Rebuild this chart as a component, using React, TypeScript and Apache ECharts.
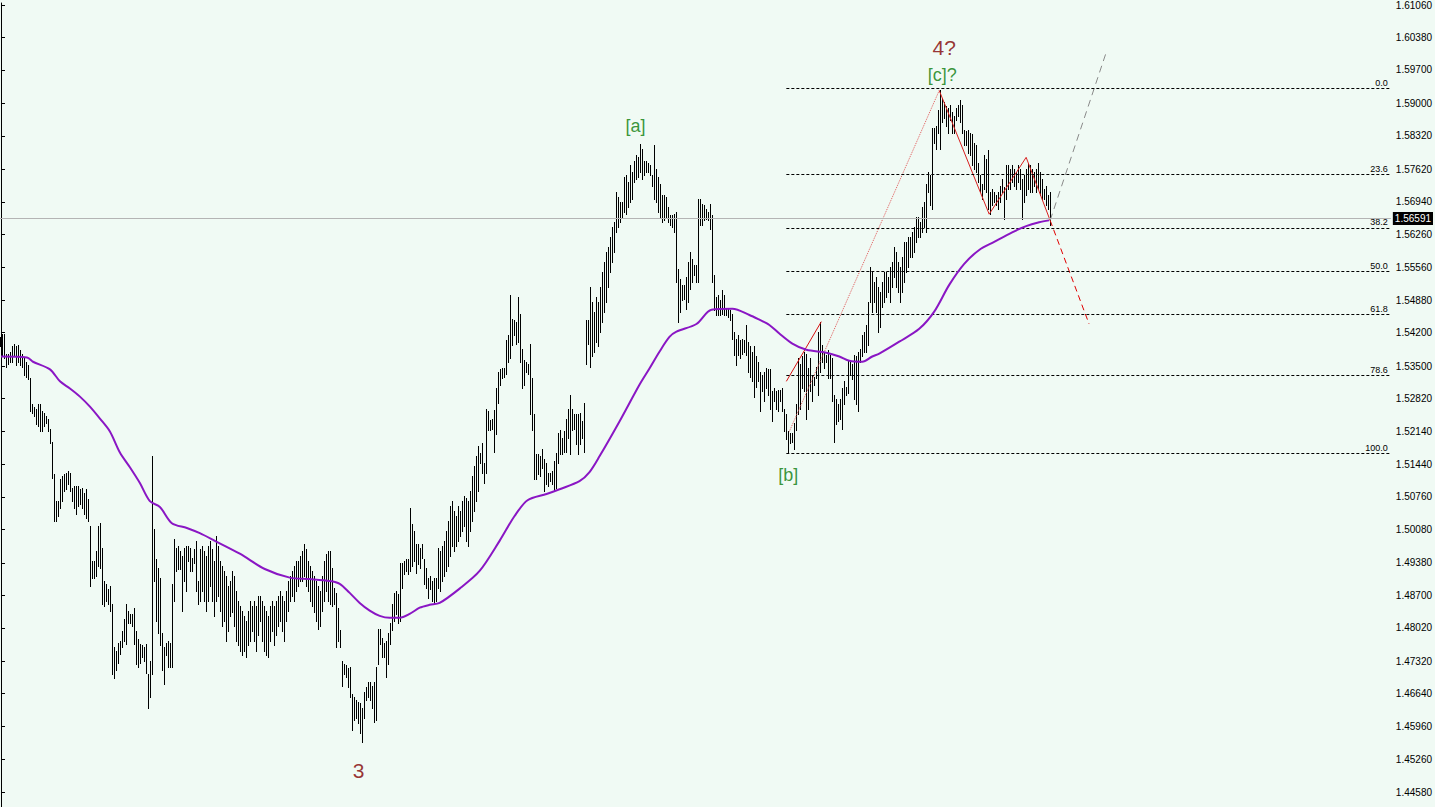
import React, { useEffect, useRef } from "react";
import * as echarts from "echarts";

// ---------- DATA ----------
// Bar highs / lows, one entry per bar, left to right
const barHigh = [
  // segment A
  1.5411,1.5418,1.5418,1.5376,1.5376,1.5380,1.5391,1.5397,1.5391,1.5395,1.5384,1.5376,1.5366,1.5359,1.5353,1.5324,1.5270,1.5265,1.5261,1.5270,1.5270,1.5255,1.5251,1.5245,1.5240,1.5219,1.5192,1.5123,1.5067,1.5067,1.5113,1.5119,1.5123,1.5126,1.5130,1.5126,1.5094,1.5098,1.5098,1.5098,1.5092,1.5094,1.5084,1.5092,1.5071,
  // segment B
  1.5015,1.4942,1.4942,1.4963,1.5015,1.5021,1.4969,1.4900,1.4894,1.4884,1.4890,1.4852,1.4761,1.4754,1.4771,1.4775,1.4796,1.4821,1.4852,1.4838,1.4831,1.4831,1.4844,1.4796,1.4779,1.4769,1.4765,1.4761,1.4769,1.4706,1.4733,1.5161,1.5009,1.4946,1.4928,1.4907,1.4792,1.4761,1.4771,1.4775,1.4771,1.4894,1.4988,1.4969,1.4973,1.4963,1.4952,1.4969,1.4973,1.4973,1.4969,1.4948,1.4967,1.4984,1.4900,
  // segment C
  1.4967,1.4973,1.4963,1.4952,1.4973,1.4984,1.4967,1.4942,1.4994,1.4973,
  1.4942,1.4932,1.4921,1.4911,1.4890,1.4900,1.4921,1.4911,1.4879,1.4859,
  1.4848,1.4838,1.4827,1.4817,1.4838,1.4859,1.4848,1.4859,1.4848,1.4869,
  1.4869,1.4859,1.4848,1.4838,1.4827,1.4848,1.4859,1.4848,1.4859,1.4869,
  1.4879,1.4869,1.4859,1.4879,1.4900,1.4911,1.4921,1.4932,1.4942,1.4942,
  1.4952,1.4963,1.4977,1.4967,1.4942,1.4932,1.4921,1.4911,1.4900,1.4890,
  1.4879,1.4911,1.4942,1.4957,1.4963,
  // segment D
  1.4963,1.4928,1.4886,1.4875,1.4844,1.4798,1.4733,1.4727,1.4723,1.4717,
  1.4719,1.4664,1.4656,1.4650,1.4646,1.4644,1.4633,1.4667,1.4677,1.4688,
  1.4688,1.4681,1.4688,1.4719,1.4800,1.4800,1.4781,1.4771,1.4775,1.4790,
  1.4811,1.4852,1.4875,1.4879,1.4873,1.4938,1.4938,1.4942,1.4946,1.4946,
  1.5053,1.5019,1.5005,1.4977,1.4977,1.4969,1.4977,1.4946,1.4928,1.4907,
  1.4911,1.4900,1.4907,1.4907,1.4969,
  // segment E
  1.4963,1.4973,1.4984,1.5005,1.5025,1.5057,1.5067,1.5046,1.5036,1.5057,
  1.5046,1.5067,1.5078,1.5074,1.5067,1.5088,1.5119,1.5140,1.5161,1.5182,
  // segment F
  1.5167,1.5188,1.5146,1.5261,1.5255,1.5238,1.5240,1.5259,1.5303,1.5338,
  1.5343,1.5345,1.5345,1.5405,1.5416,1.5499,1.5449,1.5447,1.5443,1.5495,
  1.5459,1.5386,1.5363,1.5359,1.5355,1.5397,1.5324,1.5249,1.5165,1.5165,
  1.5161,1.5176,1.5155,1.5146,1.5126,1.5126,1.5130,1.5151,1.5167,1.5209,
  1.5217,1.5199,1.5213,1.5240,1.5261,1.5290,1.5261,1.5249,1.5249,1.5249,
  1.5251,1.5234,1.5272,1.5447,1.5447,
  // segment G
  1.5516,1.5484,1.5464,1.5495,1.5484,1.5516,1.5547,1.5568,1.5589,1.5599,
  1.5620,1.5641,1.5651,1.5714,1.5703,1.5693,1.5693,1.5745,1.5749,1.5735,
  1.5770,1.5756,1.5780,1.5791,1.5787,1.5814,1.5804,1.5780,1.5780,1.5776,
  1.5772,1.5751,
  // segment H
  1.5812,1.5762,1.5745,1.5731,1.5708,1.5708,1.5703,1.5683,1.5666,1.5666,
  1.5668,1.5672,1.5553,1.5532,1.5520,1.5520,1.5537,1.5568,1.5589,1.5574,
  1.5561,1.5561,1.5700,1.5700,1.5689,1.5687,1.5679,1.5672,1.5689,1.5666,
  1.5541,1.5495,1.5499,1.5488,1.5509,1.5499,1.5470,1.5470,1.5468,1.5459,
  1.5422,1.5407,1.5416,1.5405,1.5407,1.5405,1.5436,1.5401,
  // segment I
  1.5391,1.5380,1.5391,1.5370,1.5359,1.5338,
  // segment J
  1.5332,1.5338,1.5345,1.5343,1.5343,1.5297,1.5303,1.5297,1.5300,1.5300,
  1.5303,1.5261,1.5249,1.5213,1.5209,1.5209,1.5230,1.5270,1.5366,1.5355,
  1.5370,1.5380,1.5376,1.5345,1.5366,1.5332,1.5328,1.5349,1.5422,1.5443,
  1.5395,1.5380,1.5374,1.5384,1.5374,1.5366,1.5290,1.5282,1.5270,1.5282,
  1.5303,1.5318,1.5307,1.5363,1.5359,1.5355,1.5374,1.5370,1.5380,1.5386,
  1.5416,1.5422,1.5436,1.5484,
  // segment K
  1.5557,1.5547,1.5526,1.5537,1.5516,1.5505,1.5526,1.5547,1.5547,1.5537,
  1.5557,1.5568,1.5599,1.5589,1.5568,1.5557,1.5578,1.5610,1.5610,1.5620,
  1.5620,1.5630,1.5641,1.5662,1.5662,1.5651,1.5683,1.5693,
  // segment L
  1.5731,1.5756,1.5749,1.5849,1.5849,1.5853,1.5887,1.5929,1.5912,1.5902,
  1.5895,1.5891,1.5897,1.5881,1.5874,1.5891,1.5897,1.5908,1.5897,1.5845,
  1.5843,1.5845,1.5839,1.5835,1.5818,1.5812,1.5776,1.5751,1.5731,1.5791,
  1.5783,1.5802,1.5714,1.5720,1.5714,1.5708,1.5714,1.5728,1.5741,1.5724,
  1.5770,1.5770,1.5762,1.5770,1.5762,1.5756,1.5770,1.5762,1.5741,1.5749,
  1.5762,1.5776,1.5770,1.5762,1.5756,1.5762,1.5776,1.5756,1.5741,1.5720,
  1.5728,1.5708,1.5714,
];

const barLow = [
  // segment A
  1.5391,1.5370,1.5366,1.5349,1.5355,1.5359,1.5359,1.5370,1.5353,1.5359,1.5353,1.5349,1.5332,1.5328,1.5322,1.5255,1.5251,1.5245,1.5228,1.5224,1.5213,1.5213,1.5224,1.5230,1.5213,1.5188,1.5115,1.5025,1.5025,1.5036,1.5053,1.5067,1.5088,1.5092,1.5103,1.5088,1.5067,1.5053,1.5040,1.5057,1.5061,1.5053,1.5040,1.5032,1.5025,
  // segment B
  1.4890,1.4907,1.4907,1.4911,1.4932,1.4928,1.4852,1.4848,1.4859,1.4852,
  1.4838,1.4706,1.4696,1.4713,1.4729,1.4748,1.4761,1.4775,1.4769,1.4813,
  1.4811,1.4806,1.4769,1.4727,1.4719,1.4729,1.4740,1.4733,1.4708,1.4633,
  1.4656,1.4706,1.4900,1.4817,1.4792,1.4765,1.4713,1.4685,1.4744,1.4719,
  1.4719,1.4719,1.4859,1.4921,1.4925,1.4925,1.4838,1.4900,1.4879,1.4942,
  1.4921,1.4921,1.4938,1.4879,1.4852,
  // segment C
  1.4859,1.4879,1.4859,1.4838,1.4859,1.4890,1.4859,1.4827,1.4859,1.4869,
  1.4838,1.4806,1.4817,1.4775,1.4796,1.4827,1.4834,1.4806,1.4775,1.4765,
  1.4754,1.4744,1.4754,1.4740,1.4765,1.4775,1.4796,1.4775,1.4754,1.4786,
  1.4817,1.4775,1.4754,1.4744,1.4740,1.4775,1.4796,1.4765,1.4786,1.4806,
  1.4817,1.4796,1.4775,1.4817,1.4838,1.4859,1.4869,1.4859,1.4879,1.4890,
  1.4900,1.4900,1.4911,1.4890,1.4879,1.4859,1.4848,1.4834,1.4817,1.4800,
  1.4806,1.4838,1.4859,1.4879,1.4859,
  // segment D
  1.4852,1.4848,1.4852,1.4761,1.4775,1.4761,1.4681,1.4706,1.4698,1.4677,
  1.4656,1.4587,1.4608,1.4614,1.4602,1.4581,1.4562,1.4614,1.4650,1.4656,
  1.4650,1.4635,1.4604,1.4608,1.4727,1.4769,1.4740,1.4740,1.4698,1.4727,
  1.4769,1.4798,1.4817,1.4831,1.4811,1.4817,1.4886,1.4915,1.4921,1.4915,
  1.4921,1.4932,1.4942,1.4917,1.4936,1.4928,1.4948,1.4894,1.4886,1.4865,
  1.4884,1.4859,1.4854,1.4859,1.4886,
  // segment E
  1.4879,1.4900,1.4911,1.4921,1.4932,1.4952,1.4973,1.4963,1.4973,1.4984,
  1.4994,1.5005,1.5015,1.4984,1.4973,1.5005,1.5025,1.5046,1.5067,1.5088,
  // segment F
  1.5146,1.5126,1.5105,1.5126,1.5217,1.5217,1.5219,1.5171,1.5207,1.5272,
  1.5311,1.5324,1.5328,1.5334,1.5359,1.5366,1.5395,1.5416,1.5397,1.5401,
  1.5359,1.5303,1.5311,1.5338,1.5334,1.5249,1.5217,1.5113,1.5113,1.5123,
  1.5119,1.5136,1.5088,1.5103,1.5098,1.5109,1.5103,1.5088,1.5094,1.5146,
  1.5165,1.5165,1.5171,1.5171,1.5199,1.5165,1.5217,1.5219,1.5186,1.5165,
  1.5186,1.5199,1.5171,1.5355,1.5397,
  // segment G
  1.5349,1.5370,1.5380,1.5401,1.5391,1.5422,1.5443,1.5464,1.5484,1.5516,
  1.5547,1.5568,1.5589,1.5630,1.5641,1.5651,1.5662,1.5672,1.5668,1.5683,
  1.5693,1.5700,1.5735,1.5741,1.5745,1.5756,1.5741,1.5751,1.5756,1.5756,
  1.5749,1.5728,
  // segment H
  1.5700,1.5693,1.5672,1.5662,1.5651,1.5655,1.5662,1.5651,1.5645,1.5641,
  1.5630,1.5526,1.5443,1.5464,1.5488,1.5490,1.5470,1.5484,1.5511,1.5526,
  1.5541,1.5526,1.5526,1.5645,1.5645,1.5655,1.5658,1.5655,1.5637,1.5526,
  1.5468,1.5457,1.5457,1.5457,1.5459,1.5457,1.5457,1.5453,1.5447,1.5407,
  1.5374,1.5353,1.5374,1.5366,1.5376,1.5380,1.5374,1.5338,
  // segment I
  1.5328,1.5318,1.5286,1.5307,1.5318,1.5255,
  // segment J
  1.5297,1.5276,1.5303,1.5290,1.5261,1.5234,1.5276,1.5261,1.5255,1.5276,
  1.5255,1.5213,1.5197,1.5167,1.5188,1.5192,1.5176,1.5217,1.5249,1.5261,
  1.5303,1.5297,1.5240,1.5261,1.5297,1.5276,1.5311,1.5324,1.5290,1.5338,
  1.5359,1.5345,1.5359,1.5324,1.5324,1.5276,1.5192,1.5228,1.5234,1.5240,
  1.5219,1.5270,1.5290,1.5293,1.5332,1.5322,1.5282,1.5270,1.5255,1.5359,
  1.5370,1.5380,1.5380,1.5395,
  // segment K
  1.5484,1.5464,1.5484,1.5464,1.5422,1.5432,1.5474,1.5484,1.5495,1.5505,
  1.5484,1.5516,1.5537,1.5516,1.5505,1.5484,1.5505,1.5526,1.5547,1.5557,
  1.5578,1.5578,1.5589,1.5610,1.5620,1.5620,1.5630,1.5641,
  // segment L
  1.5630,1.5714,1.5687,1.5679,1.5818,1.5804,1.5839,1.5804,1.5860,1.5870,
  1.5853,1.5839,1.5866,1.5839,1.5839,1.5866,1.5874,1.5860,1.5839,1.5812,
  1.5812,1.5797,1.5791,1.5770,1.5762,1.5756,1.5735,1.5714,1.5700,1.5720,
  1.5714,1.5679,1.5668,1.5687,1.5693,1.5687,1.5679,1.5693,1.5714,1.5658,
  1.5700,1.5720,1.5720,1.5735,1.5728,1.5720,1.5735,1.5720,1.5658,1.5693,
  1.5708,1.5720,1.5714,1.5714,1.5728,1.5714,1.5720,1.5708,1.5700,1.5700,
  1.5687,1.5679,1.5645,
];

// Moving average: [bar index, price]
const maPoints: [number, number][] = [
  [0, 1.5370], [13, 1.5368], [16, 1.5359], [24.5, 1.5343], [29.5, 1.5318], [34.5, 1.5303],
  [39.5, 1.5286], [44.5, 1.5265], [49.5, 1.5240], [54.5, 1.5213], [59.5, 1.5169], [64.5, 1.5138],
  [69.5, 1.5105], [74.5, 1.5067], [79.5, 1.5055], [85.5, 1.5021], [93, 1.5011], [99.5, 1.5000],
  [107, 1.4984], [119.5, 1.4957], [132, 1.4925], [144.5, 1.4907], [154.5, 1.4904], [164.5, 1.4900],
  [169.5, 1.4894], [174.5, 1.4875], [179.5, 1.4854], [184.5, 1.4838], [189.5, 1.4827], [194.5, 1.4823],
  [199.5, 1.4823], [204.5, 1.4831], [209.5, 1.4844], [214.5, 1.4850], [219.5, 1.4854], [229.5, 1.4884],
  [239.5, 1.4921], [249.5, 1.4984], [257, 1.5036], [263.5, 1.5069], [273, 1.5082], [279.5, 1.5092],
  [289.5, 1.5109], [294.5, 1.5128], [299.5, 1.5161], [309.5, 1.5234], [319.5, 1.5311], [324.5, 1.5345],
  [329.5, 1.5380], [334.5, 1.5411], [338, 1.5422], [348, 1.5438], [355.5, 1.5468], [366, 1.5470],
  [374.5, 1.5457], [379.5, 1.5447], [384.5, 1.5436], [389.5, 1.5418], [396, 1.5397], [403, 1.5384],
  [413, 1.5378], [419.5, 1.5370], [424.5, 1.5361], [431, 1.5359], [436, 1.5370], [439.5, 1.5376],
  [449.5, 1.5401], [459.5, 1.5428], [467, 1.5464], [474.5, 1.5520], [482, 1.5564], [489.5, 1.5593],
  [497, 1.5610], [506, 1.5630], [513, 1.5643], [519.5, 1.5651], [524.5, 1.5655],
];

// Price axis labels
const priceTicks = [
  1.6106, 1.6038, 1.597, 1.59, 1.5832, 1.5762, 1.5694, 1.5626, 1.5556, 1.5488, 1.542, 1.535, 1.5282,
  1.5214, 1.5144, 1.5076, 1.5008, 1.4938, 1.487, 1.4802, 1.4732, 1.4664, 1.4596, 1.4526, 1.4458,
];
const currentPrice = 1.56591;

// Fibonacci retracement
const fibHigh = 1.5931;
const fibLow = 1.5167;
const fibStartBar = 393;
const fibLevels = [0, 23.6, 38.2, 50, 61.8, 78.6, 100];

// Wave labels
const waveLabels = [
  { text: "3", bar: 179, price: 1.4504, major: true },
  { text: "4?", bar: 472, price: 1.6018, major: true },
  { text: "[c]?", bar: 471, price: 1.5960, major: false },
  { text: "[a]", bar: 317.5, price: 1.5853, major: false },
  { text: "[b]", bar: 394, price: 1.5121, major: false },
];

// Drawn lines: [bar index, price]
const redSolidLine: [number, number][] = [[393, 1.5318], [410.5, 1.5443]];
const pinkDottedLine: [number, number][] = [[394.5, 1.5213], [469.5, 1.5927]];
const abcPath: [number, number][] = [[469.5, 1.5927], [494.5, 1.5668], [513, 1.5787], [525, 1.5655]];
const redProjection: [number, number][] = [[525, 1.5655], [544.5, 1.5438]];
const grayProjection: [number, number][] = [[525, 1.5655], [553, 1.6006]];

// ---------- CHART ----------
const BG = "#f0faf4";
const X_MIN = -0.5;
const X_MAX = 695.5;
const Y_MIN = 1.44267;
const Y_MAX = 1.61102;

function buildOption() {
  const bars = barHigh.map((h, i) => [i, h, barLow[i]]);
  const fibData: any[] = fibLevels.map((lv) => {
    const p = fibHigh - ((fibHigh - fibLow) * lv) / 100;
    return [
      {
        coord: [fibStartBar, p],
        label: { formatter: lv.toFixed(1) },
      },
      { coord: [X_MAX, p] },
    ];
  });
  const priceLine = [
    {
      coord: [X_MIN, currentPrice],
      lineStyle: { color: "#b4b4b4", type: "solid", width: 1 },
      label: {
        show: true,
        position: "end",
        formatter: currentPrice.toFixed(5),
        backgroundColor: "#000",
        color: "#fff",
        fontSize: 10,
        fontFamily: "Liberation Sans",
        padding: [2, 2, 1, 2],
        distance: 2,
      },
    },
    { coord: [X_MAX, currentPrice] },
  ];

  const simpleLine = (data: [number, number][], color: string, type: any, width = 1) => ({
    type: "line",
    data,
    showSymbol: false,
    symbol: "none",
    silent: true,
    lineStyle: { color, width, type },
    z: 4,
  });

  return {
    animation: false,
    backgroundColor: BG,
    grid: { left: 0, right: 43, top: 0, bottom: 0 },
    xAxis: {
      type: "value",
      min: X_MIN,
      max: X_MAX,
      show: false,
      splitLine: { show: false },
    },
    yAxis: {
      type: "value",
      position: "right",
      min: Y_MIN,
      max: Y_MAX,
      splitLine: { show: false },
      axisLine: { show: true, lineStyle: { color: "#000", width: 1 } },
      axisTick: {
        show: true,
        length: 4,
        customValues: priceTicks,
        lineStyle: { color: "#000" },
      },
      axisLabel: {
        customValues: priceTicks,
        formatter: (v: number) => v.toFixed(5),
        color: "#000",
        fontSize: 10,
        fontFamily: "Liberation Sans",
        margin: 5,
      },
    },
    series: [
      {
        type: "custom",
        data: bars,
        encode: { x: 0, y: [1, 2] },
        silent: true,
        z: 3,
        renderItem: (params: any, api: any) => {
          const i = api.value(0);
          const top = api.coord([i, api.value(1)]);
          const bot = api.coord([i, api.value(2)]);
          const x = Math.floor(top[0]) + 0.5;
          return {
            type: "line",
            shape: { x1: x, y1: Math.round(top[1]), x2: x, y2: Math.round(bot[1]) + 1 },
            style: { stroke: "#000", lineWidth: 1 },
          };
        },
        markLine: {
          silent: true,
          symbol: ["none", "none"],
          animation: false,
          lineStyle: { color: "#000", type: [3, 2], width: 1 },
          label: {
            show: true,
            position: "insideEndTop",
            color: "#000",
            fontSize: 9,
            fontFamily: "Liberation Sans",
            distance: [3, 1],
          },
          data: [...fibData, priceLine],
        },
      },
      {
        type: "line",
        data: maPoints,
        smooth: 0.3,
        showSymbol: false,
        symbol: "none",
        silent: true,
        lineStyle: { color: "#8a16c4", width: 2 },
        z: 5,
      },
      simpleLine(redSolidLine, "#d81010", "solid"),
      simpleLine(pinkDottedLine, "#e05a5a", "dotted"),
      simpleLine(abcPath, "#d82020", "solid"),
      simpleLine(redProjection, "#e00000", [6, 4]),
      simpleLine(grayProjection, "#8a8a8a", [7, 5]),
      {
        type: "scatter",
        symbolSize: 0,
        silent: true,
        z: 6,
        data: waveLabels.map((w) => ({
          value: [w.bar, w.price],
          label: {
            show: true,
            position: "inside",
            formatter: w.text,
            color: w.major ? "#800000" : "#087a08",
            fontSize: w.major ? 21 : 18,
            fontFamily: "Liberation Sans",
          },
        })),
      },
    ],
  };
}

export default function App() {
  const ref = useRef<HTMLDivElement>(null);
  useEffect(() => {
    document.body.style.margin = "0";
    document.body.style.background = BG;
    const chart = echarts.init(ref.current as HTMLDivElement, null, { renderer: "svg" });
    chart.setOption(buildOption() as any);
    return () => chart.dispose();
  }, []);
  return (
    <div
      ref={ref}
      style={{ position: "absolute", left: 0, top: 0, width: 1435, height: 807, background: BG }}
    />
  );
}
